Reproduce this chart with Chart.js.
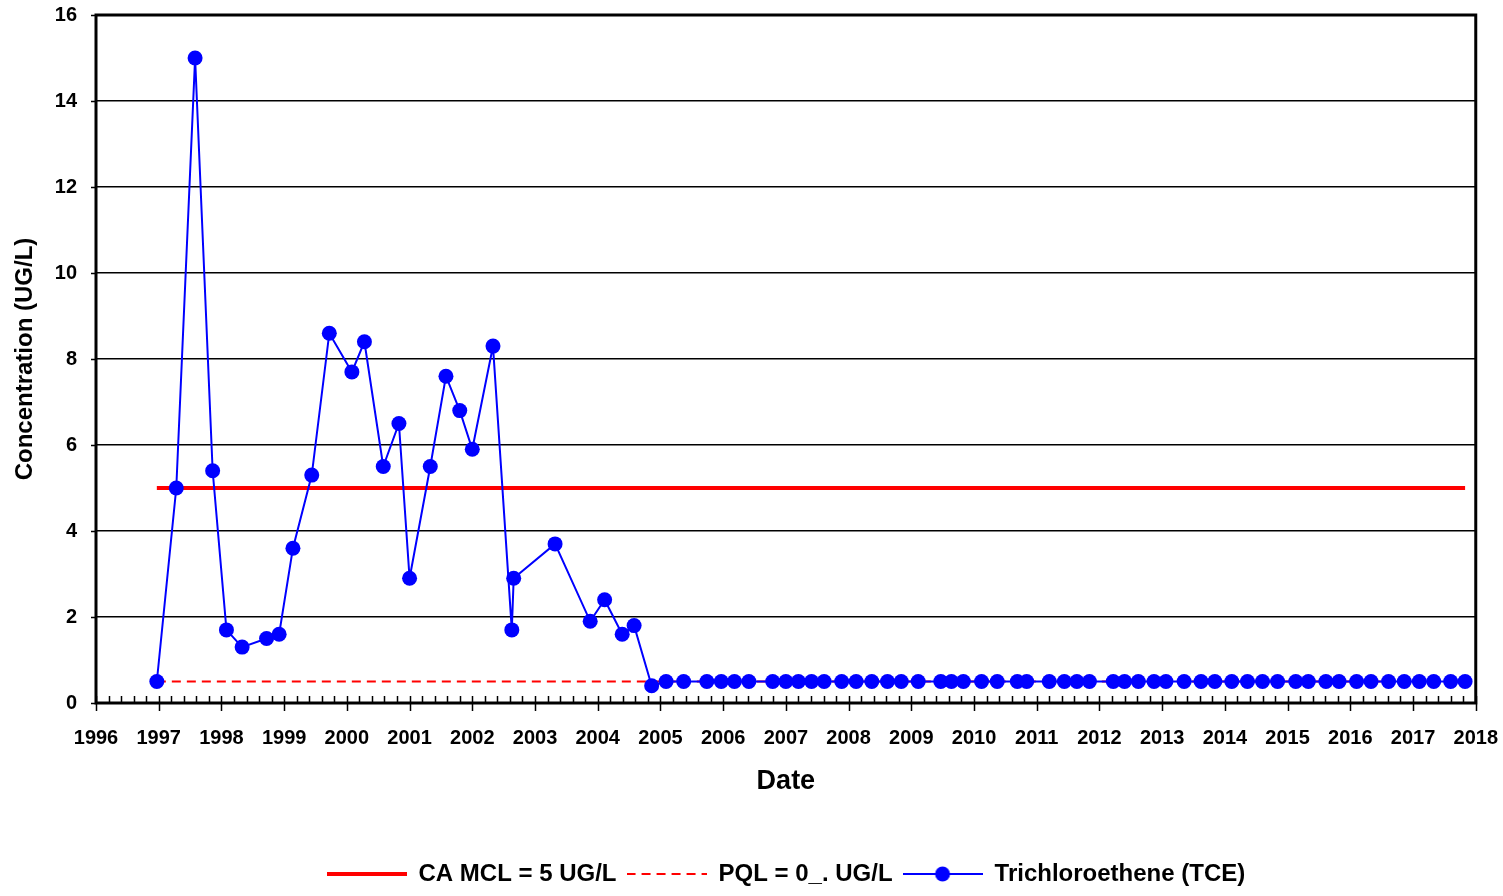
<!DOCTYPE html>
<html>
<head>
<meta charset="utf-8">
<script src="https://cdn.jsdelivr.net/npm/chart.js@4.4.1/dist/chart.umd.min.js"></script>
<style>
  html, body { margin: 0; padding: 0; background: #fff; }
  #tceChart { display: block; }
</style>
</head>
<body>
<canvas id="tceChart" width="1503" height="896"></canvas>
<script>
// sample dates as decimal years
const tceDates = [
  1996.97, 1997.28, 1997.58, 1997.86, 1998.08, 1998.33, 1998.72, 1998.92, 1999.14, 1999.44,
  1999.72, 2000.08, 2000.28, 2000.58, 2000.83, 2001.00, 2001.33, 2001.58, 2001.80, 2002.00,
  2002.33, 2002.63, 2002.66, 2003.32, 2003.88, 2004.11, 2004.39, 2004.58, 2004.86,
  2005.09, 2005.37, 2005.74, 2005.97, 2006.18, 2006.41, 2006.79, 2007.00, 2007.20, 2007.41,
  2007.61, 2007.89, 2008.12, 2008.37, 2008.62, 2008.84, 2009.11, 2009.47, 2009.64, 2009.83,
  2010.12, 2010.37, 2010.69, 2010.84, 2011.20, 2011.44, 2011.64, 2011.84, 2012.22, 2012.40,
  2012.62, 2012.87, 2013.06, 2013.35, 2013.62, 2013.84, 2014.11, 2014.36, 2014.60, 2014.84,
  2015.13, 2015.33, 2015.61, 2015.82, 2016.10, 2016.33, 2016.61, 2016.86, 2017.10, 2017.33,
  2017.60, 2017.83
];
const tceValues = [
  0.5, 5.0, 15.0, 5.4, 1.7, 1.3, 1.5, 1.6, 3.6, 5.3,
  8.6, 7.7, 8.4, 5.5, 6.5, 2.9, 5.5, 7.6, 6.8, 5.9,
  8.3, 1.7, 2.9, 3.7, 1.9, 2.4, 1.6, 1.8, 0.4,
  0.5, 0.5, 0.5, 0.5, 0.5, 0.5, 0.5, 0.5, 0.5, 0.5,
  0.5, 0.5, 0.5, 0.5, 0.5, 0.5, 0.5, 0.5, 0.5, 0.5,
  0.5, 0.5, 0.5, 0.5, 0.5, 0.5, 0.5, 0.5, 0.5, 0.5,
  0.5, 0.5, 0.5, 0.5, 0.5, 0.5, 0.5, 0.5, 0.5, 0.5,
  0.5, 0.5, 0.5, 0.5, 0.5, 0.5, 0.5, 0.5, 0.5, 0.5,
  0.5, 0.5
];
const limitDates = [1996.97, 2017.83];
const mclValues = [5, 5];
const pqlValues = [0.5, 0.5];

const legendLabels = ['CA MCL = 5 UG/L', 'PQL = 0_. UG/L', 'Trichloroethene (TCE)'];
const yearMin = 1996;
const yearMax = 2018;

// where the plot box sits in the reference
const target = { left: 96, top: 15, right: 1476, bottom: 703 };
let xAxisHeight = 151;
let yAxisWidth = 96;

const toXY = (xs, ys) => xs.map((x, i) => ({ x: x, y: ys[i] }));

// little canvases used as legend symbols
function legendSymbol(kind) {
  const c = document.createElement('canvas');
  c.width = 80;
  c.height = 20;
  const g = c.getContext('2d');
  if (kind === 'mcl') {
    g.strokeStyle = '#ff0000';
    g.lineWidth = 4;
    g.beginPath(); g.moveTo(0, 10); g.lineTo(80, 10); g.stroke();
  } else if (kind === 'pql') {
    g.strokeStyle = '#ff0000';
    g.lineWidth = 2;
    g.setLineDash([9, 6]);
    g.beginPath(); g.moveTo(0, 10); g.lineTo(80, 10); g.stroke();
  } else {
    g.strokeStyle = '#0000ff';
    g.lineWidth = 2;
    g.beginPath(); g.moveTo(0, 10); g.lineTo(80, 10); g.stroke();
    g.fillStyle = '#0000ff';
    g.beginPath(); g.arc(40, 10, 7.5, 0, Math.PI * 2); g.fill();
  }
  return c;
}
const symbols = [legendSymbol('mcl'), legendSymbol('pql'), legendSymbol('tce')];

// plot frame + axis tick marks (major years cross the axis, minor ones inside)
const frameTicks = {
  id: 'frameTicks',
  afterDatasetsDraw(chart) {
    const { ctx, chartArea: { top, bottom, left, right }, scales: { x, y } } = chart;
    ctx.save();
    ctx.strokeStyle = '#000';
    ctx.lineWidth = 1.5;
    ctx.beginPath();
    for (let yr = yearMin; yr <= yearMax; yr++) {
      const px = Math.round(x.getPixelForValue(yr)) + 0.5;
      ctx.moveTo(px, bottom - 7);
      ctx.lineTo(px, bottom + 8);
      if (yr < yearMax) {
        for (let k = 1; k < 5; k++) {
          const mx = Math.round(x.getPixelForValue(yr + k * 0.2)) + 0.5;
          ctx.moveTo(mx, bottom - 7);
          ctx.lineTo(mx, bottom);
        }
      }
    }
    for (let v = 0; v <= 16; v += 2) {
      const py = Math.round(y.getPixelForValue(v)) + 0.5;
      ctx.moveTo(left - 5, py);
      ctx.lineTo(left, py);
    }
    ctx.stroke();
    ctx.lineWidth = 3;
    ctx.strokeRect(left, top, right - left, bottom - top);
    ctx.restore();
  },
};

const config = {
  type: 'line',
  data: {
    datasets: [
      {
        label: legendLabels[0],
        data: toXY(limitDates, mclValues),
        borderColor: '#ff0000',
        borderWidth: 4,
        pointRadius: 0,
        order: 1,
      },
      {
        label: legendLabels[1],
        data: toXY(limitDates, pqlValues),
        borderColor: '#ff0000',
        borderWidth: 2,
        borderDash: [9, 6],
        pointRadius: 0,
        order: 2,
      },
      {
        label: legendLabels[2],
        data: toXY(tceDates, tceValues),
        borderColor: '#0000ff',
        borderWidth: 2,
        pointRadius: 7.5,
        pointBackgroundColor: '#0000ff',
        pointBorderWidth: 0,
        order: 0,
      },
    ],
  },
  options: {
    responsive: false,
    animation: false,
    layout: { padding: { top: 15, right: 27, left: 0, bottom: 0 } },
    elements: { line: { tension: 0, fill: false } },
    scales: {
      x: {
        type: 'linear',
        min: yearMin,
        max: yearMax,
        afterFit(scale) { scale.height = xAxisHeight; },
        // invisible tick marks only push the labels down; real ticks come from frameTicks
        grid: { drawOnChartArea: false, drawTicks: true, tickLength: 18, tickColor: 'rgba(0,0,0,0)' },
        border: { display: false },
        ticks: {
          stepSize: 1,
          padding: 5,
          color: '#000',
          font: { family: 'Liberation Sans', size: 20, weight: 'bold' },
          callback: (v) => String(v),
          maxRotation: 0,
          autoSkip: false,
        },
        title: {
          display: true,
          text: 'Date',
          color: '#000',
          font: { family: 'Liberation Sans', size: 27, weight: 'bold' },
          padding: { top: 4, bottom: 54 },
        },
      },
      y: {
        min: 0,
        max: 16,
        afterFit(scale) { scale.width = yAxisWidth; },
        grid: { color: '#000', lineWidth: 1.5, drawTicks: true, tickLength: 17, tickColor: 'rgba(0,0,0,0)' },
        border: { display: false },
        ticks: {
          stepSize: 2,
          padding: 2,
          color: '#000',
          font: { family: 'Liberation Sans', size: 20, weight: 'bold' },
        },
        title: {
          display: true,
          text: 'Concentration (UG/L)',
          color: '#000',
          font: { family: 'Liberation Sans', size: 24, weight: 'bold' },
          padding: { top: 11, bottom: 4 },
        },
      },
    },
    plugins: {
      tooltip: { enabled: false },
      legend: {
        position: 'bottom',
        fullSize: false,
        labels: {
          usePointStyle: true,
          pointStyleWidth: 80,
          padding: 10,
          color: '#000',
          font: { family: 'Liberation Sans', size: 24, weight: 'bold' },
          generateLabels: () => legendLabels.map((text, i) => ({
            text: text,
            pointStyle: symbols[i],
            datasetIndex: i,
            hidden: false,
            lineWidth: 0,
            fillStyle: 'rgba(0,0,0,0)',
            strokeStyle: 'rgba(0,0,0,0)',
            fontColor: '#000',
          })),
        },
      },
    },
  },
  plugins: [frameTicks],
};

const tceChart = new Chart(document.getElementById('tceChart'), config);

// nudge padding / axis sizes until the plot box lands where the reference has it
for (let i = 0; i < 4; i++) {
  const a = tceChart.chartArea;
  const pad = tceChart.options.layout.padding;
  const dTop = Math.round(target.top - a.top);
  const dRight = Math.round(a.right - target.right);
  const dLeft = Math.round(target.left - a.left);
  const dBottom = Math.round(a.bottom - target.bottom);
  if (!dTop && !dRight && !dLeft && !dBottom) break;
  pad.top = Math.max(0, pad.top + dTop);
  pad.right = Math.max(0, pad.right + dRight);
  yAxisWidth += dLeft;
  xAxisHeight += dBottom;
  tceChart.update('none');
}
</script>
</body>
</html>
